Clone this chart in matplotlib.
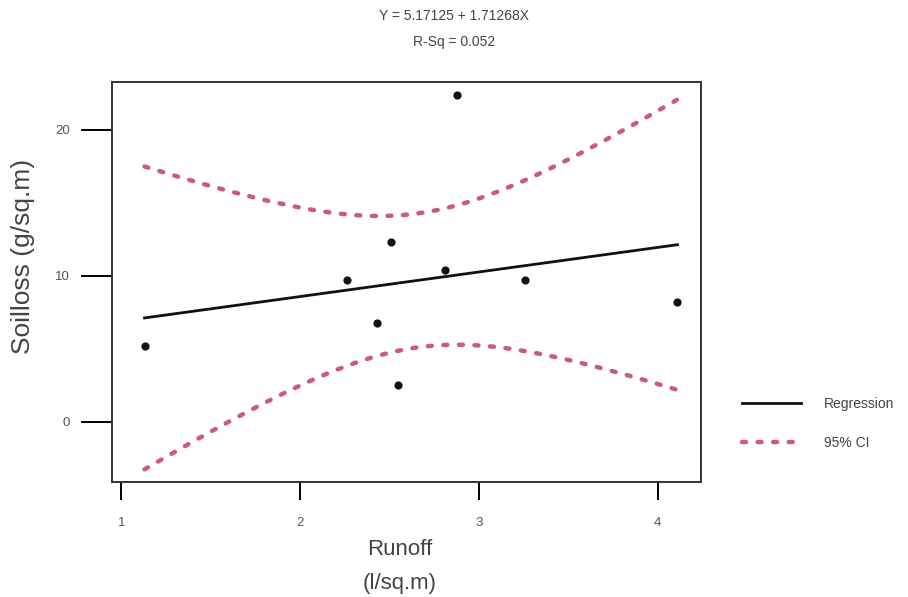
import numpy as np
import matplotlib
matplotlib.use("Agg")
import matplotlib.pyplot as plt

# runoff (l/sq.m) and soil loss (g/sq.m)
runoff = [1.13, 2.875, 2.51, 2.26, 2.81, 3.26, 4.11, 2.43, 2.55]
soilloss = [5.2, 22.4, 12.3, 9.7, 10.4, 9.7, 8.2, 6.8, 2.5]

x_ticks = [1, 2, 3, 4]
y_ticks = [0, 10, 20]

title_lines = ["Y = 5.17125 + 1.71268X", "R-Sq = 0.052"]

plt.rcParams["font.family"] = ["Liberation Sans", "DejaVu Sans"]

x = np.array(runoff)
y = np.array(soilloss)
n = len(x)

# least squares fit and 95% confidence band for the mean
slope, intercept = np.polyfit(x, y, 1)
resid = y - (intercept + slope * x)
s = np.sqrt(np.sum(resid ** 2) / (n - 2))
sxx = np.sum((x - x.mean()) ** 2)
t_crit = 2.365  # t(0.975, df=7)
xs = np.linspace(x.min(), x.max(), 100)
fit = intercept + slope * xs
half = t_crit * s * np.sqrt(1 / n + (xs - x.mean()) ** 2 / sxx)

fig = plt.figure(figsize=(9.08, 5.97), dpi=100)
ax = fig.add_axes([0.1233, 0.193, 0.7717 - 0.1233, 0.862 - 0.193])

text_col = "#444444"
ci_color = "#cc5a7c"
ax.scatter(x, y, s=24, color="#111111", zorder=3)
reg_line, = ax.plot(xs, fit, color="#111111", lw=2.0, label="Regression")
ci_line, = ax.plot(xs, fit + half, color=ci_color, lw=3.2,
                   linestyle=(0, (0.9, 2.6)), dash_capstyle="round", label="95% CI")
ax.plot(xs, fit - half, color=ci_color, lw=3.2,
        linestyle=(0, (0.9, 2.6)), dash_capstyle="round")

ax.set_xlim(0.948, 4.24)
ax.set_ylim(-4.1, 23.24)
ax.set_xticks(x_ticks)
ax.set_yticks(y_ticks)
ax.tick_params(axis="x", length=13, width=1.4, pad=12, labelsize=9.5, labelcolor="#555555")
ax.tick_params(axis="y", length=22, width=1.4, pad=8, labelsize=9.5, labelcolor="#555555")
for sp in ax.spines.values():
    sp.set_linewidth(1.4)
    sp.set_color("#333333")

ax.set_xlabel("Runoff\n(l/sq.m)", fontsize=16, color=text_col, linespacing=1.85)
ax.xaxis.set_label_coords(0.488, -0.143)
ax.set_ylabel("Soilloss (g/sq.m)", fontsize=19, color=text_col)
ax.yaxis.set_label_coords(-0.13, 0.565)

fig.text(0.5, 0.973, title_lines[0], ha="center", va="center", fontsize=10, color=text_col)
fig.text(0.5, 0.93, title_lines[1], ha="center", va="center", fontsize=10, color=text_col)

fig.legend(handles=[reg_line, ci_line], loc="center left",
           bbox_to_anchor=(0.803, 0.2906), frameon=False, fontsize=10,
           handlelength=4.25, handletextpad=1.7, labelspacing=1.8,
           labelcolor=text_col)

fig.savefig("out.png", dpi=100)
